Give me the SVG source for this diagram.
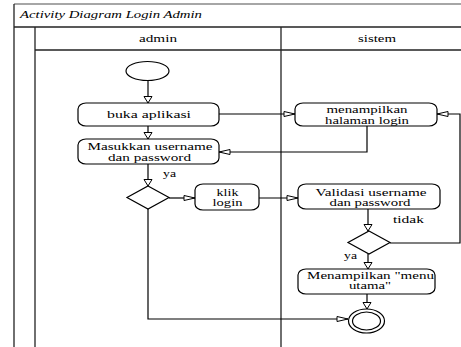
<svg xmlns="http://www.w3.org/2000/svg" width="461" height="347" viewBox="0 0 461 347">
<style>
text{font-family:"Liberation Serif","Times New Roman",serif;font-size:11px;fill:#000}
.c{text-anchor:middle}
.frame{stroke:#222;stroke-width:1.3;fill:none}
.box{fill:#fff;stroke:#000;stroke-width:1.2}
.con{fill:none;stroke:#000;stroke-width:1.2}
.h{marker-end:url(#ah)}
.v{marker-end:url(#av)}
</style>
<defs>
<marker id="ah" markerUnits="userSpaceOnUse" markerWidth="13" markerHeight="8" refX="11.5" refY="3.5" orient="auto" overflow="visible">
<path d="M0.5,1 L11.5,3.5 L0.5,6 Z" fill="#fff" stroke="#000" stroke-width="1"/>
</marker>
<marker id="av" markerUnits="userSpaceOnUse" markerWidth="9" markerHeight="11" refX="7" refY="4.5" orient="auto" overflow="visible">
<path d="M0.5,0.5 L7,4.5 L0.5,8.5 Z" fill="#fff" stroke="#000" stroke-width="1"/>
</marker>
</defs>

<g id="frame">
<line x1="14" y1="4" x2="461" y2="4" stroke="#888" stroke-width="1.5"/>
<line class="frame" x1="14" y1="4" x2="14" y2="347"/>
<line class="frame" x1="14" y1="27" x2="461" y2="27"/>
<line class="frame" x1="35" y1="27" x2="35" y2="347"/>
<line class="frame" x1="281" y1="27" x2="281" y2="347"/>
<line class="frame" x1="35" y1="50" x2="461" y2="50"/>
<text x="20" y="18" font-style="italic" textLength="182" lengthAdjust="spacingAndGlyphs">Activity Diagram Login Admin</text>
<text class="c" x="158" y="42" textLength="38" lengthAdjust="spacingAndGlyphs">admin</text>
<text class="c" x="377" y="42" textLength="38" lengthAdjust="spacingAndGlyphs">sistem</text>
</g>

<g id="connectors">
<line class="con v" x1="148" y1="80" x2="148" y2="103"/>
<line class="con h" x1="219" y1="114" x2="295" y2="114"/>
<line class="con v" x1="148" y1="126" x2="148" y2="139"/>
<polyline class="con h" points="367,126 367,152 219,152"/>
<line class="con v" x1="148" y1="164" x2="148" y2="186"/>
<line class="con h" x1="169" y1="198" x2="195" y2="198"/>
<line class="con h" x1="259" y1="198" x2="298" y2="198"/>
<line class="con v" x1="368" y1="209" x2="368" y2="231"/>
<polyline class="con h" points="390,243 460,243 460,114 437,114"/>
<line class="con v" x1="368" y1="254" x2="368" y2="269"/>
<line class="con v" x1="367" y1="294" x2="367" y2="309"/>
<polyline class="con h" points="148,209 148,319 348,319"/>
<text x="163" y="177" textLength="13" lengthAdjust="spacingAndGlyphs">ya</text>
<text x="393" y="223" textLength="31" lengthAdjust="spacingAndGlyphs">tidak</text>
<text x="344" y="259" textLength="13" lengthAdjust="spacingAndGlyphs">ya</text>
</g>

<g id="start">
<ellipse cx="147.5" cy="71" rx="21.5" ry="9.5" fill="#fff" stroke="#000" stroke-width="1.2"/>
</g>

<g id="buka-aplikasi">
<rect class="box" x="78" y="103" width="141" height="23" rx="8" ry="6"/>
<text class="c" x="149" y="118" textLength="84" lengthAdjust="spacingAndGlyphs">buka aplikasi</text>
</g>

<g id="masukkan">
<rect class="box" x="78" y="139" width="141" height="25" rx="8" ry="6"/>
<text class="c" x="150" y="150" textLength="125" lengthAdjust="spacingAndGlyphs">Masukkan username</text>
<text class="c" x="149.5" y="160.5" textLength="83" lengthAdjust="spacingAndGlyphs">dan password</text>
</g>

<g id="menampilkan-login">
<rect class="box" x="295" y="103" width="142" height="23" rx="8" ry="6"/>
<text class="c" x="367" y="113" textLength="81" lengthAdjust="spacingAndGlyphs">menampilkan</text>
<text class="c" x="367" y="123.5" textLength="84" lengthAdjust="spacingAndGlyphs">halaman login</text>
</g>

<g id="decision1">
<polygon points="148,186 169,197.5 148,209 127,197.5" fill="#fff" stroke="#000" stroke-width="1.2"/>
</g>

<g id="klik-login">
<rect class="box" x="195" y="184" width="64" height="26" rx="8" ry="6"/>
<text class="c" x="227.5" y="195.5" textLength="22" lengthAdjust="spacingAndGlyphs">klik</text>
<text class="c" x="227.5" y="206" textLength="30" lengthAdjust="spacingAndGlyphs">login</text>
</g>

<g id="validasi">
<rect class="box" x="298" y="184" width="142" height="25" rx="8" ry="6"/>
<text class="c" x="371" y="195.5" textLength="111" lengthAdjust="spacingAndGlyphs">Validasi username</text>
<text class="c" x="370" y="206" textLength="81" lengthAdjust="spacingAndGlyphs">dan password</text>
</g>

<g id="decision2">
<polygon points="369,231 390,242.5 369,254 348,242.5" fill="#fff" stroke="#000" stroke-width="1.2"/>
</g>

<g id="menu-utama">
<rect class="box" x="298" y="269" width="137" height="25" rx="8" ry="6"/>
<text class="c" x="370.5" y="278.5" textLength="127" lengthAdjust="spacingAndGlyphs">Menampilkan "menu</text>
<text class="c" x="370" y="289" textLength="42" lengthAdjust="spacingAndGlyphs">utama"</text>
</g>

<g id="end">
<ellipse cx="366.5" cy="321" rx="18" ry="12" fill="#fff" stroke="#000" stroke-width="1.2"/>
<ellipse cx="366.5" cy="321" rx="14" ry="9" fill="#fff" stroke="#000" stroke-width="1.2"/>
</g>
</svg>
